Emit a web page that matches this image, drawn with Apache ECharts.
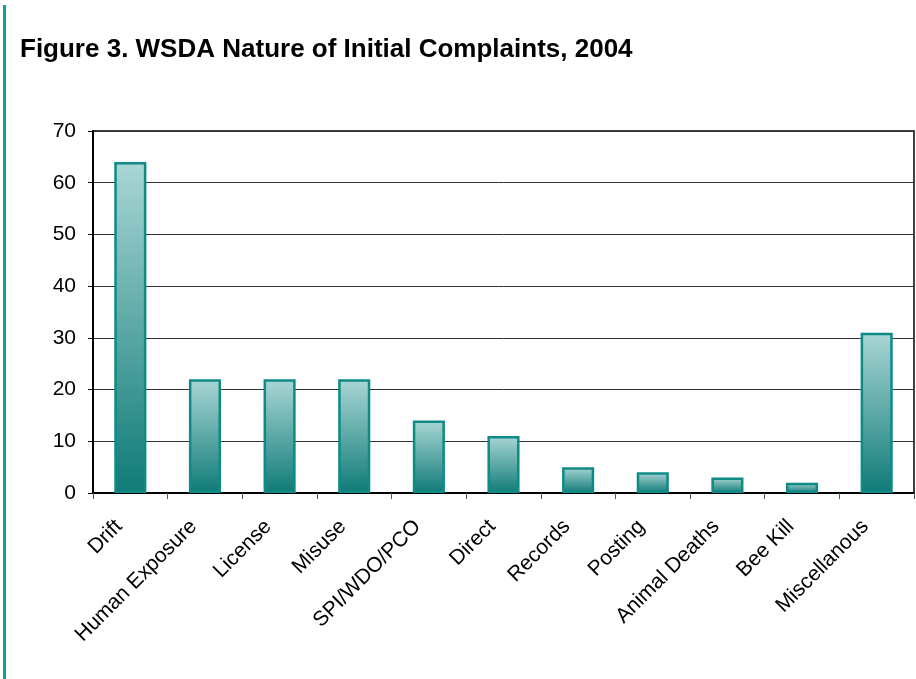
<!DOCTYPE html>
<html>
<head>
<meta charset="utf-8">
<script src="https://cdn.jsdelivr.net/npm/echarts@6/dist/echarts.min.js"></script>
<style>
  html, body { margin: 0; padding: 0; background: #fff; }
  #chart { width: 916px; height: 679px; }
</style>
</head>
<body>
<div id="chart"></div>
<script>
// 数据
const categories = ['Drift', 'Human Exposure', 'License', 'Misuse', 'SPI/WDO/PCO', 'Direct',
  'Records', 'Posting', 'Animal Deaths', 'Bee Kill', 'Miscellanous'];
const complaints = [64, 22, 22, 22, 14, 11, 5, 4, 3, 2, 31];
const yTicks = [0, 10, 20, 30, 40, 50, 60, 70];

let myChart = echarts.init(document.getElementById('chart'));
let option = {
  backgroundColor: '#fff',
  textStyle: { fontFamily: 'Liberation Sans, Arial, sans-serif' },
  title: {
    text: 'Figure 3. WSDA Nature of Initial Complaints, 2004',
    left: 15,
    top: 32,
    textStyle: { fontSize: 26, fontWeight: 'bold', color: '#000', fontFamily: 'Liberation Sans, Arial, sans-serif' }
  },
  // 左边的青色竖线
  graphic: [{
    type: 'rect',
    shape: { x: 3, y: 5, width: 3, height: 674 },
    style: { fill: '#0e9e9c' }
  }],
  grid: {
    left: 93, right: 2, top: 131, bottom: 186,
    show: true, borderColor: '#000', borderWidth: 1.5
  },
  xAxis: {
    type: 'category',
    data: categories,
    axisLine: { lineStyle: { color: '#000', width: 2 } },
    axisTick: { show: true, length: 6, lineStyle: { color: '#555' } },
    axisLabel: { rotate: 45, fontSize: 21, color: '#000', margin: 19, interval: 0, padding: [0, 16, 0, 0] }
  },
  yAxis: {
    type: 'value',
    min: yTicks[0],
    max: yTicks[yTicks.length - 1],
    interval: 10,
    axisLine: { show: true, lineStyle: { color: '#000', width: 2 } },
    axisTick: { show: true, length: 5, lineStyle: { color: '#000' } },
    axisLabel: { fontSize: 21, color: '#000', margin: 17 },
    splitLine: { lineStyle: { color: '#333', width: 1 } }
  },
  series: [{
    type: 'bar',
    data: complaints,
    barWidth: '43%',
    itemStyle: {
      borderColor: '#0f8a86',
      borderWidth: 2.5,
      color: new echarts.graphic.LinearGradient(0, 0, 0, 1, [
        { offset: 0, color: '#a9d6d5' },
        { offset: 1, color: '#0f7b77' }
      ])
    }
  }]
};
myChart.setOption(option);
</script>
</body>
</html>
